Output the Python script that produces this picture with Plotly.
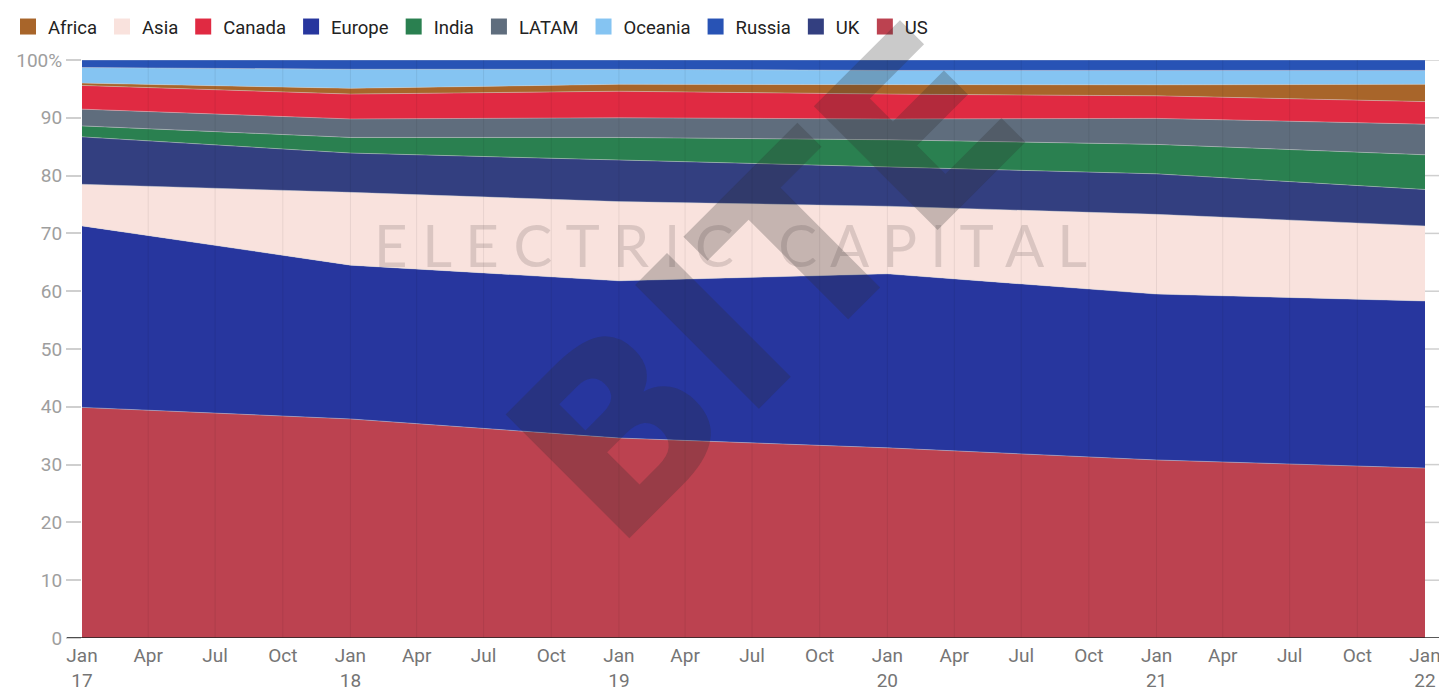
import plotly.graph_objects as go

dates = ["2017-01-01", "2018-01-01", "2019-01-01", "2020-01-01", "2021-01-01", "2022-01-01"]

# shares (%) by region, stacked bottom -> top
us      = [39.9, 37.9, 34.6, 32.9, 30.8, 29.4]
europe  = [31.4, 26.6, 27.2, 30.1, 28.7, 28.9]
asia    = [7.2, 12.6, 13.7, 11.7, 13.8, 13.0]
uk      = [8.2, 6.8, 7.2, 6.8, 7.0, 6.3]
india   = [1.9, 2.7, 3.9, 4.7, 5.1, 6.0]
latam   = [2.9, 3.2, 3.4, 3.6, 4.5, 5.3]
canada  = [4.1, 4.3, 4.6, 4.3, 3.9, 3.9]
africa  = [0.4, 1.0, 1.2, 1.6, 1.9, 3.0]
oceania = [2.7, 3.3, 2.6, 2.5, 2.5, 2.4]
russia  = [1.3, 1.6, 1.6, 1.8, 1.8, 1.8]

x_tickvals = ["2017-01-01", "2017-04-01", "2017-07-01", "2017-10-01",
              "2018-01-01", "2018-04-01", "2018-07-01", "2018-10-01",
              "2019-01-01", "2019-04-01", "2019-07-01", "2019-10-01",
              "2020-01-01", "2020-04-01", "2020-07-01", "2020-10-01",
              "2021-01-01", "2021-04-01", "2021-07-01", "2021-10-01",
              "2022-01-01"]
x_ticktext = ["Jan<br>17", "Apr", "Jul", "Oct",
              "Jan<br>18", "Apr", "Jul", "Oct",
              "Jan<br>19", "Apr", "Jul", "Oct",
              "Jan<br>20", "Apr", "Jul", "Oct",
              "Jan<br>21", "Apr", "Jul", "Oct",
              "Jan<br>22"]
y_tickvals = [0, 10, 20, 30, 40, 50, 60, 70, 80, 90, 100]
y_ticktext = ["0", "10", "20", "30", "40", "50", "60", "70", "80", "90", "100%"]

# stacking order (bottom -> top)
series = [
    ("US", us, "#BC4250"),
    ("Europe", europe, "#27369E"),
    ("Asia", asia, "#F9E2DD"),
    ("UK", uk, "#333F80"),
    ("India", india, "#2A8050"),
    ("LATAM", latam, "#5F6D7D"),
    ("Canada", canada, "#E02A42"),
    ("Africa", africa, "#A8652A"),
    ("Oceania", oceania, "#85C4F2"),
    ("Russia", russia, "#2853B5"),
]
legend_order = ["Africa", "Asia", "Canada", "Europe", "India", "LATAM",
                "Oceania", "Russia", "UK", "US"]

fig = go.Figure()
for i, (name, vals, color) in enumerate(series):
    fig.add_trace(go.Scatter(
        x=dates, y=vals, name=name, mode="lines",
        stackgroup="one", groupnorm="percent" if i == 0 else None,
        line=dict(width=0.6, color="rgba(210,210,210,0.7)"),
        fillcolor=color, showlegend=False, hoverinfo="x+y+name",
    ))

# legend entries (square swatches)
colors = {n: c for n, _, c in series}
for name in legend_order:
    fig.add_trace(go.Scatter(
        x=[None], y=[None], mode="markers", name=name,
        marker=dict(symbol="square", size=22, color=colors[name],
                    line=dict(width=0)),
        showlegend=True, hoverinfo="skip",
    ))

shapes = []
for tv in x_tickvals[1:-1]:
    shapes.append(dict(type="line", xref="x", yref="paper", x0=tv, x1=tv, y0=0, y1=1,
                       line=dict(color="rgba(0,0,0,0.07)", width=1), layer="above"))
for tv in y_tickvals[1:]:
    shapes.append(dict(type="line", xref="paper", yref="y", x0=1, x1=1.0115, y0=tv, y1=tv,
                       line=dict(color="#cfcfcf", width=1.5), layer="below"))
shapes.append(dict(type="line", xref="paper", yref="y", x0=-0.0112, x1=1.0115, y0=0, y1=0,
                   line=dict(color="#222222", width=1.5), layer="above"))

fig.update_layout(
    width=1439, height=684,
    margin=dict(l=74, r=22, t=52, b=54, autoexpand=False),
    paper_bgcolor="white", plot_bgcolor="white",
    font=dict(family="Roboto, sans-serif", size=19, color="#333"),
    showlegend=True,
    legend=dict(orientation="h", xref="container", yref="container", x=-0.008, y=1.0,
                xanchor="left", yanchor="top", font=dict(size=18.5, color="#222"),
                itemsizing="trace", traceorder="normal", bgcolor="rgba(0,0,0,0)",
                itemwidth=30, tracegroupgap=0),
    shapes=shapes,
    xaxis=dict(
        type="date", range=["2017-01-01", "2022-01-01"],
        tickvals=x_tickvals, ticktext=x_ticktext,
        showgrid=False, zeroline=False, showline=False,
        ticks="", tickfont=dict(size=19, color="#757575"),
        ticklabelstandoff=4,
    ),
    yaxis=dict(
        range=[0, 100], tickvals=y_tickvals, ticktext=y_ticktext,
        showgrid=True, gridcolor="#cfcfcf", gridwidth=1.5, zeroline=False,
        ticks="outside", ticklen=15, tickcolor="#cfcfcf", tickwidth=1.5,
        tickfont=dict(size=19, color="#9e9e9e"), showline=False,
    ),
    annotations=[
        dict(text="E L E C T R I C   C A P I T A L", xref="paper", yref="paper",
             x=0.483, y=0.68, yanchor="middle",
             showarrow=False, font=dict(family="Lato, sans-serif", size=58,
                                         color="rgba(110,95,95,0.22)")),
        dict(text="<b>BITE</b>", xref="paper", yref="paper", x=0.51, y=0.615, textangle=-45,
             showarrow=False, font=dict(family="DejaVu Sans, sans-serif", size=240,
                                         color="rgba(45,45,45,0.25)")),
    ],
)

fig.write_html("out.html")
